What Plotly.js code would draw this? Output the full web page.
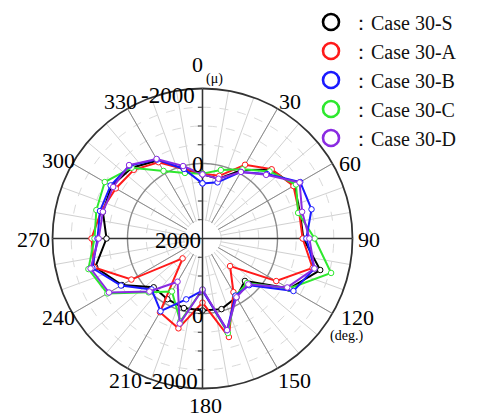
<!DOCTYPE html>
<html><head><meta charset="utf-8">
<script src="https://cdn.plot.ly/plotly-3.0.1.min.js"></script>
<style>html,body{margin:0;padding:0;background:#fff}</style>
</head><body>
<div id="chart" style="width:485px;height:418px"></div>
<script>
// ---- data (strain in μ, angle in deg.) ----
const angles = [0,15,30,45,60,75,90,105,120,135,150,165,180,195,210,225,240,255,270,285,300,315,330,345];
const caseS = [290,350,-110,-590,-830,-690,-690,-1250,-670,400,190,50,80,80,130,160,-480,-960,-560,-750,-800,-670,-400,80];
const caseA = [270,270,-270,-610,-800,-670,-670,-1040,-270,960,350,-720,290,-480,-270,1250,-190,-990,-960,-800,-670,-590,-350,80];
const caseB = [530,450,-50,-430,-1010,-1010,-770,-1090,-800,240,240,-530,610,320,-240,80,-510,-1040,-800,-830,-830,-750,-430,80];
const caseC = [270,110,-130,-530,-880,-640,-990,-1550,-670,320,240,-610,640,-290,370,-30,-930,-1150,-880,-930,-1010,-670,-80,190];
const caseD = [290,350,-50,-400,-990,-750,-850,-1090,-610,270,190,-530,640,-350,670,0,-880,-1090,-770,-750,-750,-770,-450,0];
const seriesNames = ['\uFF1ACase 30-S','\uFF1ACase 30-A','\uFF1ACase 30-B','\uFF1ACase 30-C','\uFF1ACase 30-D'];
const seriesColors = ['#000000','#ff1a1a','#1a1aff','#2ee82e','#8a2be2'];
const radialTicks = [-2000,-1500,-1000,-500,0,500,1000,1500,2000];
const angularLabels = ['0','30','60','90','120','150','180','210','240','270','300','330'];
const radialLabelsTop = ['-2000','0','2000'];
const radialLabelsBottom = ['0','-2000'];
const radialUnit = '(\u03BC)';
const angleUnit = '(deg.)';

// ---- layout helpers (pixel positions of label texts) ----
const W = 485, H = 418;
const angularLabelPos = [[197,64],[290,101.5],[349.5,163.5],[368.5,239],[357.5,317.5],[294.5,380],
  [205,405.5],[125.5,380],[58.5,317.5],[33.5,239],[58.5,160],[120,101.5]];
const radialTopPos = [[197,95],[206,164.5],[202.5,240]];
const radialBottomPos = [[206,315],[200,381.5]];
const px = (x) => x / W, py = (y) => 1 - y / H;

const angularTicks = [];
for (let a = 0; a < 360; a += 10) angularTicks.push(a);
const majorSpokes = [0,30,60,90,120,150,180,210,240,270,300,330];

const series = [caseS, caseA, caseB, caseC, caseD];
const drawOrder = [0,1,3,2,4];
const serif = 'Liberation Serif, Times New Roman, serif';

const traces = [];
const ringTheta = [];
for (let a = 0; a <= 360; a += 2) ringTheta.push(a);
// white hole in the middle of the grid
traces.push({type:'scatterpolar', subplot:'polar2', theta: ringTheta, r: ringTheta.map(()=>1520),
  mode:'lines', fill:'toself', fillcolor:'#ffffff', line:{color:'rgba(0,0,0,0)', width:0},
  showlegend:false, hoverinfo:'skip'});
// darker ring at 0
traces.push({type:'scatterpolar', subplot:'polar2', theta: ringTheta, r: ringTheta.map(()=>0),
  mode:'lines', line:{color:'#8c8c8c', width:1.4}, showlegend:false, hoverinfo:'skip'});
// cross axes
[[0,180],[90,270]].forEach(pair => {
  traces.push({type:'scatterpolar', subplot:'polar2', theta:[pair[0], pair[0], pair[1]], r:[-2000, 2000, -2000],
    mode:'lines', line:{color:'#333333', width:1.3}, showlegend:false, hoverinfo:'skip'});
});
// data
drawOrder.forEach(i => {
  const vals = series[i];
  traces.push({type:'scatterpolar', subplot:'polar2',
    theta: angles.concat([angles[0] + 360]), r: vals.concat([vals[0]]),
    mode:'lines+markers', name: seriesNames[i], showlegend:false,
    line:{color: seriesColors[i], width:2},
    marker:{symbol:'circle', size:5.5, color:'#ffffff', line:{color: seriesColors[i], width:1}}
  });
});
// legend entries (circle only)
for (let i = 0; i < 5; i++) {
  traces.push({type:'scatterpolar', subplot:'polar', theta:[null], r:[null], mode:'markers',
    name: seriesNames[i], showlegend:true,
    marker:{symbol:'circle-open', size:16, color: seriesColors[i], line:{width:2.6, color: seriesColors[i]}}});
}

const annotations = [];
angularLabels.forEach((t, i) => annotations.push({text:t, xref:'paper', yref:'paper',
  x:px(angularLabelPos[i][0]), y:py(angularLabelPos[i][1]), xanchor:'center', yanchor:'middle', showarrow:false,
  font:{family: serif, size:22, color:'#000'}}));
radialLabelsTop.forEach((t, i) => annotations.push({text:t, xref:'paper', yref:'paper',
  x:px(radialTopPos[i][0]), y:py(radialTopPos[i][1]), xanchor:'right', yanchor:'middle', showarrow:false,
  font:{family: serif, size:23, color:'#000'}}));
radialLabelsBottom.forEach((t, i) => annotations.push({text:t, xref:'paper', yref:'paper',
  x:px(radialBottomPos[i][0]), y:py(radialBottomPos[i][1]), xanchor:'right', yanchor:'middle', showarrow:false,
  font:{family: serif, size:23, color:'#000'}}));
annotations.push({text: radialUnit, xref:'paper', yref:'paper', x:px(214), y:py(78.5), xanchor:'center', yanchor:'middle',
  showarrow:false, font:{family: serif, size:14, color:'#000'}});
annotations.push({text: angleUnit, xref:'paper', yref:'paper', x:px(346.5), y:py(336), xanchor:'center', yanchor:'middle',
  showarrow:false, font:{family: serif, size:14, color:'#000'}});

const dom = {x:[52.5/W, 352.5/W], y:[(H-388.5)/H, (H-88.5)/H]};
const layout = {
  width:W, height:H,
  margin:{l:0, r:0, t:0, b:0},
  paper_bgcolor:'#ffffff',
  font:{family: serif, size:20, color:'#000'},
  showlegend:true,
  legend:{x:311/W, y:1 - 2.5/H, xanchor:'left', yanchor:'top', bgcolor:'rgba(0,0,0,0)',
    font:{family: serif, size:20, color:'#111'}, itemwidth:30, tracegroupgap:0},
  polar:{
    domain: dom, bgcolor:'#ffffff',
    angularaxis:{rotation:90, direction:'clockwise', tickmode:'array', tickvals: angularTicks,
      showticklabels:false, showline:true, linecolor:'#333', linewidth:1.8, ticks:'',
      showgrid:true, gridcolor:'#d0d0d0', gridwidth:1},
    radialaxis:{range:[2000,-2000], tickmode:'array', tickvals: radialTicks, showticklabels:false,
      angle:90, side:'counterclockwise', showline:true, linecolor:'#333', linewidth:1.3,
      ticks:'outside', ticklen:4, tickcolor:'#333', showgrid:true, gridcolor:'#dadada', griddash:'dash', gridwidth:1}
  },
  polar2:{
    domain: dom, bgcolor:'rgba(0,0,0,0)',
    angularaxis:{rotation:90, direction:'clockwise', tickmode:'array', tickvals: majorSpokes,
      showticklabels:false, ticks:'', showline:false, showgrid:true, gridcolor:'#8c8c8c', gridwidth:1},
    radialaxis:{range:[2000,-2000], tickmode:'array', tickvals: radialTicks, showticklabels:false,
      angle:270, side:'clockwise', showline:true, linecolor:'#333', linewidth:1.3,
      ticks:'outside', ticklen:4, tickcolor:'#333', showgrid:false}
  },
  annotations: annotations
};
Plotly.newPlot('chart', traces, layout, {staticPlot:true, displayModeBar:false});
</script>
</body></html>
